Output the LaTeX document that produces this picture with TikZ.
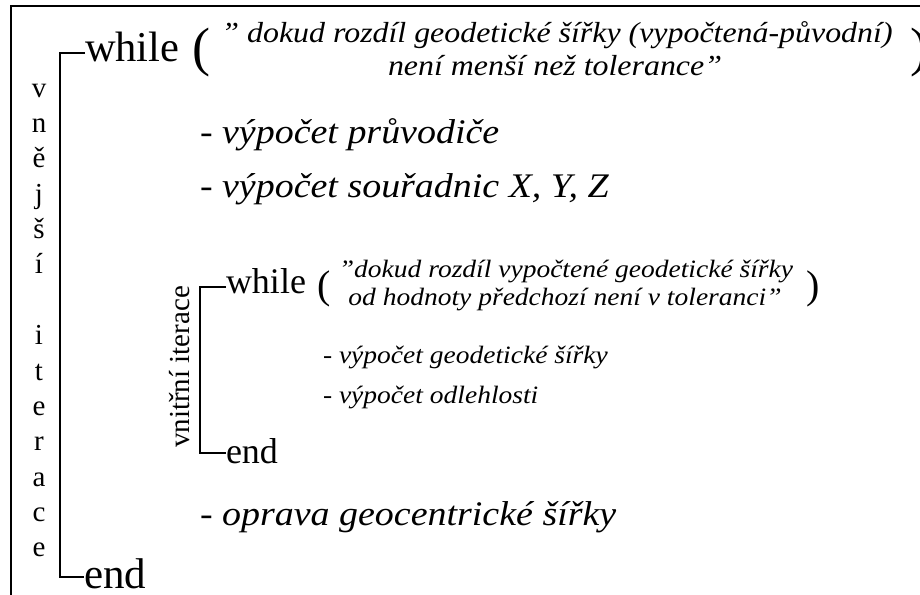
\documentclass[tikz,border=0pt]{standalone}
\usepackage{graphicx}
\usepackage{fontspec}
\setmainfont{Liberation Serif}
\newcommand\sx[1]{\scalebox{1.1}[1]{#1}}
\begin{document}
\begin{tikzpicture}[x=1pt,y=-1pt,
  txt/.style={inner sep=0pt,outer sep=0pt},
  kw/.style={txt,anchor=base west},
  frameline/.style={line width=2pt},
  brace/.style={line width=2.5pt},
]
\useasboundingbox (0,0) rectangle (920,594);
% frame
\coordinate (fTL) at (10.5,6.5);
\coordinate (fTR) at (921,6.5);
\coordinate (fBL) at (10.5,595);
\draw[frameline] (fBL) -- (fTL) -- (fTR);

% vertical label
\foreach \ch [count=\k from 0] in {v,n,ě,j,š,í,{},i,t,e,r,a,c,e}{
  \node[txt,anchor=base,font=\fontsize{29}{29}\selectfont] (vl\k) at (39,{97+35.38*\k}) {\ch};
}

% outer loop
\node[kw,font=\fontsize{42.5}{42.5}\selectfont] (w1) at (85,61) {while};
\node[kw,font=\fontsize{54}{54}\selectfont] (p1) at (192,66) {(};
\node[txt,anchor=base,font=\fontsize{29}{29}\selectfont\itshape] (c1a) at (557,42) {\sx{" dokud rozdíl geodetické šířky (vypočtená-původní)}};
\node[txt,anchor=base,font=\fontsize{29}{29}\selectfont\itshape] (c1b) at (555,75) {\sx{není menší než tolerance"}};
\node[kw,font=\fontsize{54}{54}\selectfont] (q1) at (910,66) {)};
\node[kw,font=\fontsize{34.5}{34.5}\selectfont\itshape] (i1) at (200,143) {\sx{- výpočet průvodiče}};
\node[kw,font=\fontsize{34.5}{34.5}\selectfont\itshape] (i2) at (200,197) {\sx{- výpočet souřadnic X, Y, Z}};
\node[kw,font=\fontsize{34.5}{34.5}\selectfont\itshape] (i3) at (200,525) {\sx{- oprava geocentrické šířky}};
\node[kw,font=\fontsize{43}{43}\selectfont] (e1) at (84,588) {end};

% outer bracket
\coordinate (b1t) at (60,53);
\coordinate (b1b) at (60,577);
\draw[brace] (w1.west |- b1t) -- (b1t) -- (b1b) -- (e1.west |- b1b);

% inner loop
\node[kw,font=\fontsize{36}{36}\selectfont] (w2) at (226,293) {while};
\node[kw,font=\fontsize{40}{40}\selectfont] (p2) at (317,298) {(};
\node[txt,anchor=base,font=\fontsize{25}{25}\selectfont\itshape] (c2a) at (566,277) {\sx{"dokud rozdíl vypočtené geodetické šířky}};
\node[txt,anchor=base,font=\fontsize{25}{25}\selectfont\itshape] (c2b) at (565,305) {\sx{od hodnoty předchozí není v toleranci"}};
\node[kw,font=\fontsize{40}{40}\selectfont] (q2) at (806,298) {)};
\node[kw,font=\fontsize{25}{25}\selectfont\itshape] (j1) at (323,363) {\sx{- výpočet geodetické šířky}};
\node[kw,font=\fontsize{25}{25}\selectfont\itshape] (j2) at (323,403) {\sx{- výpočet odlehlosti}};
\node[kw,font=\fontsize{36}{36}\selectfont] (e2) at (226,463) {end};

\node[txt,anchor=base,rotate=90,font=\fontsize{29}{29}\selectfont] (lab2) at (189,367) {vnitřní iterace};

% inner bracket
\coordinate (b2t) at (200,287);
\coordinate (b2b) at (200,453);
\draw[brace] (w2.west |- b2t) -- (b2t) -- (b2b) -- (e2.west |- b2b);
\end{tikzpicture}
\end{document}
